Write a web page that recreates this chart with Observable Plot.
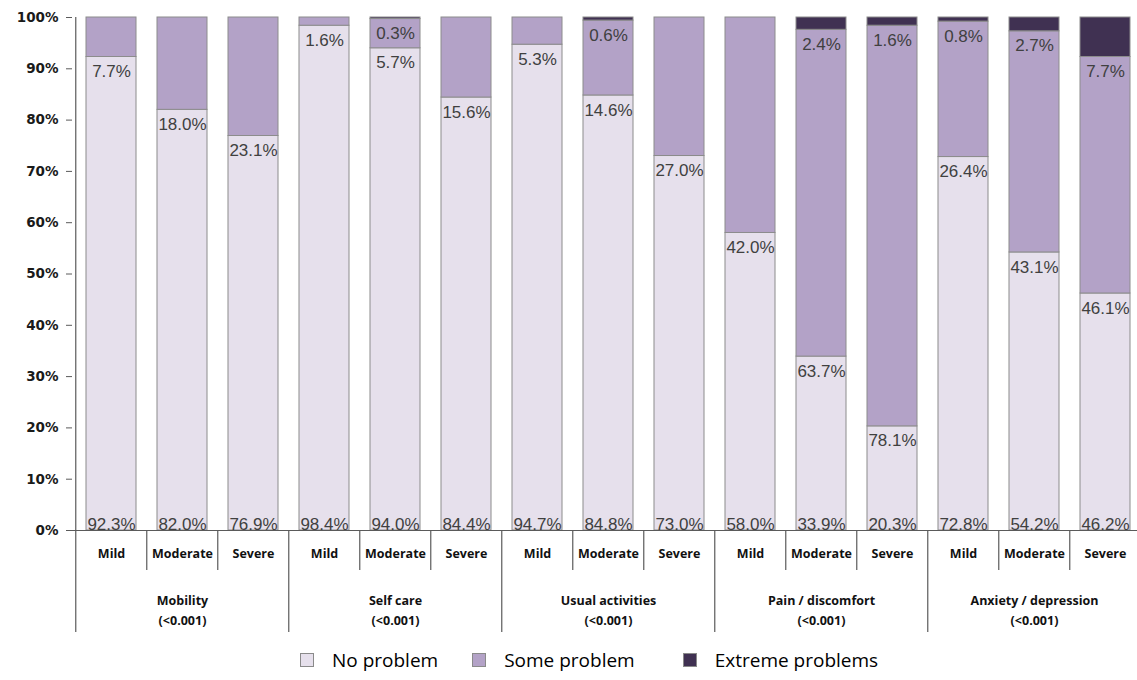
<!DOCTYPE html>
<html>
<head>
<meta charset="utf-8">
<script src="https://cdn.jsdelivr.net/npm/d3@7"></script>
<script src="https://cdn.jsdelivr.net/npm/@observablehq/plot@0.6"></script>
<style>
  html, body { margin: 0; padding: 0; background: #fff; }
  #chart { width: 1137px; }
  .legend { display: flex; justify-content: flex-start; align-items: center; height: 40px; font-family: "Open Sans", sans-serif; font-size: 19px; color: #000; padding-left: 300px; box-sizing: border-box; }
  .legend .item { display: flex; align-items: center; }
  .legend .item:nth-child(2) { margin-left: 34px; }
  .legend .item:nth-child(3) { margin-left: 48px; }
  .legend .sw { width: 14px; height: 14px; border: 1px solid #8a8a8a; margin-right: 18px; box-sizing: border-box; }
</style>
</head>
<body>
<div id="chart"></div>
<script>
const groups = ["Mobility", "Self care", "Usual activities", "Pain / discomfort", "Anxiety / depression"];
const pValues = ["(<0.001)", "(<0.001)", "(<0.001)", "(<0.001)", "(<0.001)"];
const severities = ["Mild", "Moderate", "Severe"];
const levels = ["No problem", "Some problem", "Extreme problems"];
const levelColors = ["#e6e0ec", "#b3a2c7", "#403152"];
const noProblem   = [92.3, 82.0, 76.9, 98.4, 94.0, 84.4, 94.7, 84.8, 73.0, 58.0, 33.9, 20.3, 72.8, 54.2, 46.2];
const someProblem = [7.7, 18.0, 23.1, 1.6, 5.7, 15.6, 5.3, 14.6, 27.0, 42.0, 63.7, 78.1, 26.4, 43.1, 46.1];
const extremeProb = [0, 0, 0, 0, 0.3, 0, 0, 0.6, 0, 0, 2.4, 1.6, 0.8, 2.7, 7.7];
const yTicks = [0, 10, 20, 30, 40, 50, 60, 70, 80, 90, 100];

const series = [noProblem, someProblem, extremeProb];
const bars = [];
groups.forEach((g, gi) => severities.forEach((s, si) => bars.push({key: g + "|" + s, group: g, p: pValues[gi], severity: s})));
const keys = bars.map(b => b.key);
const rows = [];
bars.forEach((b, i) => levels.forEach((lv, j) => rows.push({...b, level: lv, value: series[j][i]})));
const fmt = v => v.toFixed(1) + "%";

const xRange = [72, 1144];
const step = (xRange[1] - xRange[0]) / keys.length;
const lineColor = "#5a5a5a";

const chart = Plot.plot({
  width: 1137,
  height: 640,
  marginTop: 17,
  marginBottom: 110,
  marginLeft: 72,
  marginRight: 0,
  style: {background: "white", overflow: "visible"},
  x: {type: "band", domain: keys, range: xRange, paddingInner: 0.3, paddingOuter: 0.15, label: null},
  y: {domain: [0, 100], label: null},
  color: {domain: levels, range: levelColors},
  marks: [
    Plot.barY(rows, {x: "key", y: "value", fill: "level", order: levels, stroke: "#8c8c8c", strokeWidth: 1}),
    Plot.text(rows.filter(d => d.level === levels[0]), {
      x: "key", y: 0, text: d => fmt(d.value), lineAnchor: "bottom", dy: -1,
      fontSize: 17, fontFamily: "Liberation Sans", fill: "#404040"
    }),
    Plot.text(rows, Plot.stackY1({
      x: "key", y: "value", z: "level", order: levels,
      text: d => (d.level === levels[0] || d.value === 0) ? "" : fmt(d.value),
      lineAnchor: "top", dy: 8,
      fontSize: 17, fontFamily: "Liberation Sans", fill: "#404040"
    })),
    Plot.ruleY([0], {stroke: lineColor, strokeWidth: 1.2}),
    Plot.ruleX([keys[0]], {dx: -step / 2, stroke: lineColor, strokeWidth: 1.2}),
    Plot.axisY({
      ticks: yTicks, tickFormat: d => d + "%", tickSize: 6, tickPadding: 8, label: null,
      fontSize: 13.5, fontWeight: "bold", fontFamily: "DejaVu Sans", fill: "#1a1a1a", stroke: lineColor
    }),
    Plot.axisX({
      ticks: bars.filter(b => b.severity !== severities[0]).map(b => b.key), label: null,
      tickSize: 40, tickFormat: () => "", dx: -step / 2, stroke: lineColor, strokeWidth: 1.2
    }),
    Plot.axisX({
      ticks: bars.filter(b => b.severity === severities[0]).map(b => b.key), label: null,
      tickSize: 102, tickFormat: () => "", dx: -step / 2, stroke: lineColor, strokeWidth: 1.2
    }),
    Plot.axisX({
      ticks: keys, tickSize: 0, tickPadding: 19, label: null,
      tickFormat: k => k.split("|")[1],
      fontSize: 12.5, fontWeight: "bold", fontFamily: "Open Sans", fill: "#111"
    }),
    Plot.axisX({
      ticks: bars.filter(b => b.severity === severities[1]).map(b => b.key), label: null,
      tickSize: 0, tickPadding: 61, lineHeight: 1.55,
      tickFormat: k => { const b = bars.find(d => d.key === k); return b.group + "\n" + b.p; },
      fontSize: 12.5, fontWeight: "bold", fontFamily: "Open Sans", fill: "#111"
    })
  ]
});
document.getElementById("chart").appendChild(chart);

const legend = document.createElement("div");
legend.className = "legend";
levels.forEach((lv, i) => {
  const item = document.createElement("div");
  item.className = "item";
  const sw = document.createElement("span");
  sw.className = "sw";
  sw.style.background = levelColors[i];
  const label = document.createElement("span");
  label.textContent = lv;
  item.appendChild(sw);
  item.appendChild(label);
  legend.appendChild(item);
});
document.getElementById("chart").appendChild(legend);
</script>
</body>
</html>
